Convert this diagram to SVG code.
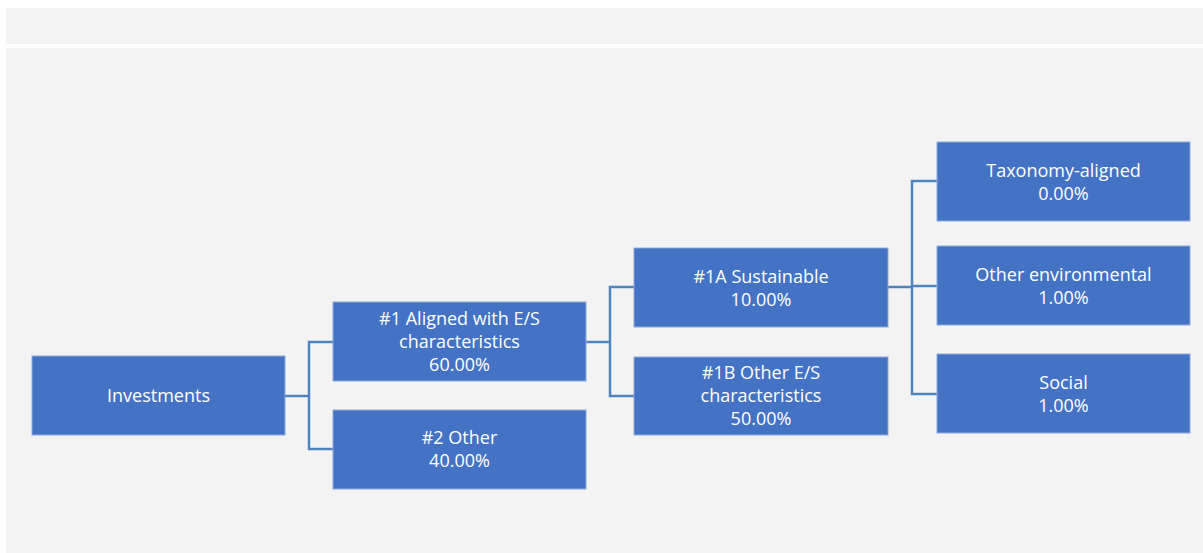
<svg xmlns="http://www.w3.org/2000/svg" width="1203" height="553" viewBox="0 0 1203 553">
<style>
.panel{fill:#f3f3f3}
.box{fill:#4472c4;stroke:#8faadc;stroke-width:1}
.t{font-family:"Open Sans","Noto Sans","Liberation Sans",sans-serif;font-size:18px;fill:#ffffff;text-anchor:middle}
.c{fill:none;stroke:#5084be;stroke-width:2.5}
</style>
<rect width="1203" height="553" fill="#ffffff"/>
<rect class="panel" x="6" y="8" width="1197" height="36"/>
<rect class="panel" x="6" y="48" width="1197" height="505"/>
<g id="connectors">
<polyline class="c" points="285,396 309,396"/>
<polyline class="c" points="333,342 309,342 309,449 333,449"/>
<polyline class="c" points="586,342 610,342"/>
<polyline class="c" points="634,287 610,287 610,396 634,396"/>
<polyline class="c" points="888,287 912,287"/>
<polyline class="c" points="937,181 912,181 912,394 937,394"/>
<polyline class="c" points="912,286 937,286"/>
</g>
<g id="investments">
<rect class="box" x="32" y="356" width="253" height="79"/>
<text class="t" x="158.5" y="402">Investments</text>
</g>
<g id="aligned">
<rect class="box" x="333" y="302" width="253" height="79"/>
<text class="t" x="459.5" y="325">#1 Aligned with E/S</text>
<text class="t" x="459.5" y="348">characteristics</text>
<text class="t" x="459.5" y="371">60.00%</text>
</g>
<g id="other">
<rect class="box" x="333" y="410" width="253" height="79"/>
<text class="t" x="459.5" y="444">#2 Other</text>
<text class="t" x="459.5" y="467">40.00%</text>
</g>
<g id="sustainable">
<rect class="box" x="634" y="248" width="254" height="79"/>
<text class="t" x="761" y="283">#1A Sustainable</text>
<text class="t" x="761" y="306">10.00%</text>
</g>
<g id="other-es">
<rect class="box" x="634" y="357" width="254" height="78"/>
<text class="t" x="761" y="379">#1B Other E/S</text>
<text class="t" x="761" y="402">characteristics</text>
<text class="t" x="761" y="425">50.00%</text>
</g>
<g id="taxonomy">
<rect class="box" x="937" y="142" width="253" height="79"/>
<text class="t" x="1063.5" y="177">Taxonomy-aligned</text>
<text class="t" x="1063.5" y="200">0.00%</text>
</g>
<g id="other-env">
<rect class="box" x="937" y="246" width="253" height="79"/>
<text class="t" x="1063.5" y="281">Other environmental</text>
<text class="t" x="1063.5" y="304">1.00%</text>
</g>
<g id="social">
<rect class="box" x="937" y="354" width="253" height="79"/>
<text class="t" x="1063.5" y="389">Social</text>
<text class="t" x="1063.5" y="412">1.00%</text>
</g>
</svg>
